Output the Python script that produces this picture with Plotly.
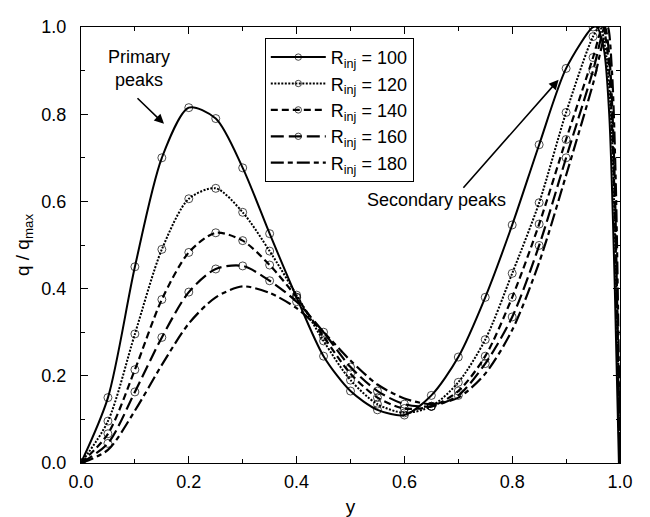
import plotly.graph_objects as go

# ---- data ----
x_main = [0.0, 0.05, 0.10, 0.15, 0.20, 0.25, 0.30, 0.35, 0.40, 0.45,
          0.50, 0.55, 0.60, 0.65, 0.70, 0.75, 0.80, 0.85, 0.90, 0.95]

q100 = [0.0, 0.150, 0.450, 0.700, 0.815, 0.790, 0.677, 0.526, 0.380, 0.245,
        0.165, 0.122, 0.110, 0.155, 0.243, 0.380, 0.546, 0.730, 0.905, 1.000]
q120 = [0.0, 0.096, 0.296, 0.490, 0.606, 0.630, 0.575, 0.486, 0.385, 0.280,
        0.190, 0.135, 0.115, 0.130, 0.185, 0.283, 0.435, 0.597, 0.804, 0.978]
q140 = [0.0, 0.067, 0.214, 0.375, 0.483, 0.528, 0.510, 0.454, 0.380, 0.290,
        0.205, 0.150, 0.125, 0.130, 0.165, 0.245, 0.380, 0.548, 0.742, 0.930]
q160 = [0.0, 0.045, 0.163, 0.288, 0.392, 0.445, 0.452, 0.418, 0.370, 0.300,
        0.220, 0.165, 0.135, 0.130, 0.155, 0.228, 0.335, 0.499, 0.700, 0.900]
q180 = [0.0, 0.030, 0.120, 0.225, 0.320, 0.380, 0.405, 0.390, 0.355, 0.300,
        0.235, 0.180, 0.148, 0.135, 0.150, 0.205, 0.305, 0.460, 0.660, 0.870]

# near-wall part (peak and sharp drop) for each curve
x_end100 = [0.957, 0.970, 0.980, 0.990, 0.998]
q_end100 = [1.000, 0.950, 0.800, 0.420, 0.0]
x_end120 = [0.963, 0.975, 0.985, 0.993, 0.999]
q_end120 = [1.000, 0.930, 0.750, 0.400, 0.0]
x_end140 = [0.968, 0.978, 0.987, 0.994, 0.999]
q_end140 = [1.000, 0.930, 0.720, 0.380, 0.0]
x_end160 = [0.972, 0.981, 0.989, 0.995, 1.000]
q_end160 = [1.000, 0.920, 0.700, 0.350, 0.0]
x_end180 = [0.977, 0.985, 0.992, 0.997, 1.000]
q_end180 = [1.000, 0.900, 0.650, 0.300, 0.0]

labels = ["R<sub>inj</sub> = 100", "R<sub>inj</sub> = 120", "R<sub>inj</sub> = 140",
          "R<sub>inj</sub> = 160", "R<sub>inj</sub> = 180"]

x_ticks = [0.0, 0.2, 0.4, 0.6, 0.8, 1.0]
y_ticks = [0.0, 0.2, 0.4, 0.6, 0.8, 1.0]

# ---- figure ----
series = [
    (q100, x_end100, q_end100, "solid", 2.0, True),
    (q120, x_end120, q_end120, "2px,1.5px", 2.0, True),
    (q140, x_end140, q_end140, "7px,4px", 2.2, True),
    (q160, x_end160, q_end160, "13px,5px", 2.2, True),
    (q180, x_end180, q_end180, "13px,4px,5px,4px", 2.2, False),
]

fig = go.Figure()
for (qm, xe, qe, dash, w, has_markers), name in zip(series, labels):
    xs = x_main + xe
    ys = qm + qe
    if has_markers:
        sizes = [8] * len(x_main) + [0] * len(xe)
        mode = "lines+markers"
    else:
        sizes = 0
        mode = "lines"
    fig.add_trace(go.Scatter(
        x=xs, y=ys, name=name, mode=mode,
        line=dict(color="black", width=w, dash=dash, shape="spline", smoothing=0.8),
        marker=dict(symbol="circle-open", size=sizes, color="black",
                    line=dict(width=1, color="black")),
    ))

axis_common = dict(
    showgrid=False, zeroline=False, showline=True, linecolor="black", linewidth=1.2,
    mirror="ticks", ticks="inside", ticklen=7, tickwidth=1, tickcolor="black",
    tickfont=dict(size=18, color="black"), ticklabeloverflow="allow",
    minor=dict(ticks="inside", ticklen=4, tickwidth=1, tickcolor="black", dtick=0.1),
)

fig.update_xaxes(range=[0, 1], tickvals=x_ticks, ticktext=[f"{v:.1f}" for v in x_ticks],
                 title=dict(text="y", font=dict(size=19, color="black"), standoff=8),
                 ticklabelstandoff=2, **axis_common)
fig.update_yaxes(range=[0, 1], tickvals=y_ticks, ticktext=[f"{v:.1f}" for v in y_ticks],
                 title=dict(text="q / q<sub>max</sub>", font=dict(size=19, color="black"), standoff=6),
                 ticklabelstandoff=10, **axis_common)

fig.add_annotation(x=0.107, y=0.904, xref="x", yref="y", text="Primary<br>peaks",
                   showarrow=False, font=dict(size=18, color="black"), align="center")
fig.add_annotation(x=0.154, y=0.778, ax=0.102, ay=0.840, xref="x", yref="y",
                   axref="x", ayref="y", text="", showarrow=True,
                   arrowhead=2, arrowsize=1.2, arrowwidth=1.6, arrowcolor="black")
fig.add_annotation(x=0.66, y=0.603, xref="x", yref="y", text="Secondary peaks",
                   showarrow=False, font=dict(size=18, color="black"))
fig.add_annotation(x=0.886, y=0.879, ax=0.707, ay=0.628, xref="x", yref="y",
                   axref="x", ayref="y", text="", showarrow=True,
                   arrowhead=2, arrowsize=1.2, arrowwidth=1.6, arrowcolor="black")

fig.update_layout(
    width=650, height=517,
    margin=dict(l=73, r=38, t=9, b=62),
    paper_bgcolor="white", plot_bgcolor="white",
    font=dict(family="Liberation Sans, Arial, sans-serif", color="black"),
    showlegend=True,
    legend=dict(x=0.341, y=0.975, xanchor="left", yanchor="top",
                bgcolor="white", bordercolor="black", borderwidth=1,
                font=dict(size=18, color="black"), tracegroupgap=0,
                itemwidth=55),
)

fig.write_html("out.html")
